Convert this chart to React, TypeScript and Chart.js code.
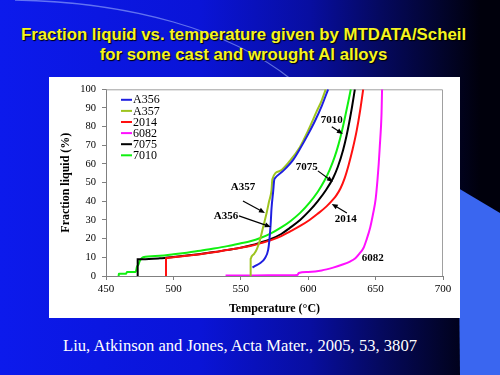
import React, { useEffect, useRef } from 'react';
import { Chart, registerables } from 'chart.js';

Chart.register(...registerables);

const seriesNames = ['A356', 'A357', '2014', '6082', '7075', '7010'];
const seriesColors = ['#1f1fe0', '#9ec41f', '#ff1010', '#ff10ff', '#000000', '#10f010'];

const a356T = [558.7, 561, 564.2, 567.9, 570.3, 571.1, 572.1, 572.8, 574, 574.8, 575.4, 581.4, 588.8, 593.8, 600, 605, 610, 614.8];
const a356F = [4.5, 5.5, 6.8, 9.5, 14, 18.4, 27.3, 36.3, 45.2, 51.5, 52.4, 56.3, 62.2, 68, 76, 83, 91, 100];

const a357T = [557.3, 557.3, 558, 560, 562, 564.2, 566.5, 569.1, 571, 572.8, 573.4, 579, 586.4, 593.8, 600, 606.2, 610, 613];
const a357F = [0, 9, 10.4, 12, 14.5, 19.3, 26, 33.6, 40, 46, 51.8, 56.3, 61.7, 69, 78, 88, 94, 100];

const al2014T = [494.5, 494.5, 496, 500, 510, 520, 530, 540, 550, 557, 565, 572, 580, 586.4, 594, 601, 607, 613.6, 618.5, 621, 624, 627, 630, 633, 636, 638.5, 640.8];
const al2014F = [0, 9.5, 9.7, 10, 10.8, 11.7, 12.7, 13.9, 15.1, 16.1, 17.6, 19.1, 21.4, 23.8, 26.8, 30, 33.3, 37.3, 41, 43.3, 47, 52.3, 59.5, 68, 78, 88.5, 100];

const al6082T = [538.7, 560, 580, 592, 593, 600, 610, 618.5, 625, 631, 635, 638.3, 641, 643.2, 646, 648.2, 650, 651.4, 652.3, 653.1, 654, 654.4, 654.8];
const al6082F = [0.3, 0.3, 0.4, 0.6, 1.6, 2.2, 3, 4.5, 6, 7.7, 9.5, 12.2, 15, 19.3, 26, 33.6, 41, 51.5, 60, 69.3, 80, 87, 100];

const al7075T = [473.5, 473.5, 477, 490, 500, 510, 520, 530, 540, 550, 557, 565, 572, 580, 586.4, 594, 601, 607, 613.6, 618.5, 622, 625.9, 628.4, 630.5, 632.5, 634.6];
const al7075F = [0, 9, 9, 9.5, 10.2, 11, 11.8, 12.8, 14, 15.2, 16.3, 18, 19.7, 22.5, 25.8, 30, 35, 40, 46.5, 52.5, 58.5, 67.5, 75, 82.5, 90.5, 100];

const al7010T = [459.4, 459.5, 465, 465.5, 472, 473, 474, 475, 476.5, 477.5, 490, 500, 510, 520, 530, 540, 550, 557, 565, 572, 580, 587, 594, 601, 607, 612, 616, 619.5, 622.5, 625, 627.3, 629.5, 631.6];
const al7010F = [0, 1.2, 1.2, 2.2, 2.2, 5, 6, 8, 9.5, 10, 10.8, 11.6, 12.5, 13.5, 14.7, 16, 17.5, 18.6, 20.5, 22.7, 26, 29.5, 33.8, 39.3, 45, 51, 57, 63.5, 70.5, 77.5, 85, 92.5, 100];

const seriesT = [a356T, a357T, al2014T, al6082T, al7075T, al7010T];
const seriesF = [a356F, a357F, al2014F, al6082F, al7075F, al7010F];

const xTicks = [450, 500, 550, 600, 650, 700];
const yTicks = [0, 10, 20, 30, 40, 50, 60, 70, 80, 90, 100];

const noteTexts = ['A357', 'A356', '7010', '7075', '2014', '6082'];
const noteX = [551.6, 539, 617.5, 599, 627.9, 647.9];
const noteY = [47.7, 32.2, 83.6, 58.4, 30.6, 9.7];
const arrowFromX = [551.6, 548.6, 617.5, 607.2, 628.7];
const arrowFromY = [40.2, 32.2, 79.9, 56.3, 33.8];
const arrowToX = [567.9, 572.3, 625.7, 618.3, 617.5];
const arrowToY = [33.8, 26.3, 76.1, 50.4, 38.6];

const serif = "'Liberation Serif', 'Times New Roman', serif";

const framePlugin = {
  id: 'frameAndNotes',
  beforeDatasetsDraw(chart: any) {
    const { ctx, chartArea: a } = chart;
    ctx.save();
    ctx.strokeStyle = '#a0a0a0';
    ctx.lineWidth = 1;
    ctx.beginPath();
    ctx.moveTo(a.left, a.top + 0.5);
    ctx.lineTo(a.right - 0.5, a.top + 0.5);
    ctx.lineTo(a.right - 0.5, a.bottom);
    ctx.stroke();
    ctx.restore();
  },
  afterDraw(chart: any) {
    const { ctx, chartArea: a, scales } = chart;
    const xs = scales.x;
    const ys = scales.y;
    ctx.save();
    ctx.font = `12px ${serif}`;
    ctx.textBaseline = 'middle';
    ctx.textAlign = 'left';
    seriesNames.forEach((n, i) => {
      const yy = a.top + 10.5 + i * 11.1;
      ctx.strokeStyle = seriesColors[i];
      ctx.lineWidth = 2;
      ctx.beginPath();
      ctx.moveTo(a.left + 15, yy);
      ctx.lineTo(a.left + 26, yy);
      ctx.stroke();
      ctx.fillStyle = '#000';
      ctx.fillText(n, a.left + 27, yy + 0.5);
    });
    ctx.font = `bold 11px ${serif}`;
    ctx.textAlign = 'center';
    noteTexts.forEach((t, i) => {
      ctx.fillText(t, xs.getPixelForValue(noteX[i]), ys.getPixelForValue(noteY[i]));
    });
    ctx.strokeStyle = '#000';
    ctx.fillStyle = '#000';
    ctx.lineWidth = 1.2;
    arrowFromX.forEach((fx, i) => {
      const x1 = xs.getPixelForValue(fx);
      const y1 = ys.getPixelForValue(arrowFromY[i]);
      const x2 = xs.getPixelForValue(arrowToX[i]);
      const y2 = ys.getPixelForValue(arrowToY[i]);
      const ang = Math.atan2(y2 - y1, x2 - x1);
      ctx.beginPath();
      ctx.moveTo(x1, y1);
      ctx.lineTo(x2 - 4 * Math.cos(ang), y2 - 4 * Math.sin(ang));
      ctx.stroke();
      ctx.beginPath();
      ctx.moveTo(x2, y2);
      ctx.lineTo(x2 - 6 * Math.cos(ang) + 2.5 * Math.sin(ang), y2 - 6 * Math.sin(ang) - 2.5 * Math.cos(ang));
      ctx.lineTo(x2 - 6 * Math.cos(ang) - 2.5 * Math.sin(ang), y2 - 6 * Math.sin(ang) + 2.5 * Math.cos(ang));
      ctx.closePath();
      ctx.fill();
    });
    ctx.restore();
  },
};

function FractionChart() {
  const ref = useRef<HTMLCanvasElement>(null);
  useEffect(() => {
    if (!ref.current) return;
    const datasets = seriesNames.map((n, i) => ({
      label: n,
      data: seriesT[i].map((t, j) => ({ x: t, y: seriesF[i][j] })),
      borderColor: seriesColors[i],
      backgroundColor: seriesColors[i],
      borderWidth: 2,
      pointRadius: 0,
      cubicInterpolationMode: 'monotone',
      fill: false,
    }));
    const chart = new Chart(ref.current, {
      type: 'line',
      data: { datasets },
      options: {
        animation: false,
        responsive: false,
        maintainAspectRatio: false,
        layout: { padding: { left: 0, top: 12, right: 17, bottom: 0 } },
        plugins: { legend: { display: false }, tooltip: { enabled: false } },
        scales: {
          x: {
            type: 'linear',
            min: 450,
            max: 700,
            afterBuildTicks: (s: any) => { s.ticks = xTicks.map((v) => ({ value: v })); },
            afterFit: (s: any) => { s.height = 42; },
            border: { color: '#808080', width: 1 },
            grid: { drawOnChartArea: false, tickLength: 4, color: '#808080' },
            ticks: { color: '#000', padding: 3, font: { family: serif, size: 11 } },
            title: {
              display: true,
              text: 'Temperature (°C)',
              color: '#000',
              font: { family: serif, size: 12, weight: 'bold' },
              padding: { top: 0, bottom: 2 },
            },
          },
          y: {
            type: 'linear',
            min: 0,
            max: 100,
            afterBuildTicks: (s: any) => { s.ticks = yTicks.map((v) => ({ value: v })); },
            afterFit: (s: any) => { s.width = 57; },
            border: { color: '#808080', width: 1 },
            grid: { drawOnChartArea: false, tickLength: 4, color: '#808080' },
            ticks: { color: '#000', padding: 6, font: { family: serif, size: 10.5 } },
            title: {
              display: true,
              text: 'Fraction liquid (%)',
              color: '#000',
              font: { family: serif, size: 12, weight: 'bold' },
              padding: { top: 10, bottom: 0 },
            },
          },
        },
      },
      plugins: [framePlugin],
    } as any);
    return () => chart.destroy();
  }, []);
  return <canvas ref={ref} width={411} height={241} style={{ display: 'block', width: 411, height: 241 }} />;
}

export default function App() {
  return (
    <div
      style={{
        position: 'fixed',
        left: 0,
        top: 0,
        width: 500,
        height: 375,
        overflow: 'hidden',
        background:
          'linear-gradient(to right, rgb(12,26,236) 0%, rgb(10,20,215) 40%, rgb(8,14,160) 62%, rgb(5,9,95) 76%, rgb(2,4,45) 88%, rgb(0,0,12) 96%)',
      }}
    >
      <svg width={500} height={375} style={{ position: 'absolute', left: 0, top: 0 }}>
        <path d="M 15 0 C 130 2, 230 30, 292 80" stroke="rgba(170,190,255,0.55)" strokeWidth={1.3} fill="none" />
        <polygon points="458,188 500,213 500,375 460,375" fill="rgb(58,102,240)" />
      </svg>
      <div
        style={{
          position: 'absolute',
          left: 0,
          top: 25,
          width: 487,
          textAlign: 'center',
          color: '#f5f520',
          fontFamily: "'Liberation Sans', Arial, sans-serif",
          fontWeight: 'bold',
          fontSize: 16.8,
          lineHeight: '20px',
          textShadow: '1px 1px 1px #000',
        }}
      >
        <div>Fraction liquid vs. temperature given by MTDATA/Scheil</div>
        <div>for some cast and wrought Al alloys</div>
      </div>
      <div style={{ position: 'absolute', left: 49, top: 77, width: 411, height: 241, background: '#fff' }}>
        <FractionChart />
      </div>
      <div
        style={{
          position: 'absolute',
          left: 63,
          top: 335,
          whiteSpace: 'nowrap',
          color: '#fff',
          fontFamily: serif,
          fontSize: 16.6,
          lineHeight: '22px',
        }}
      >
        Liu, Atkinson and Jones, Acta Mater., 2005, 53, 3807
      </div>
    </div>
  );
}
